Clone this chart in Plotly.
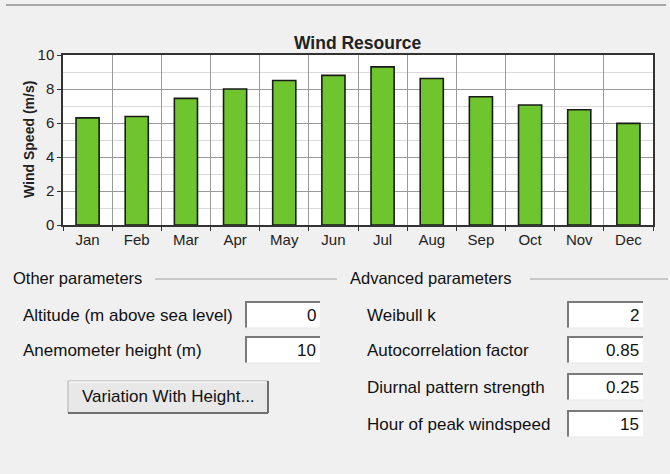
import plotly.graph_objects as go

months = ["Jan", "Feb", "Mar", "Apr", "May", "Jun", "Jul", "Aug", "Sep", "Oct", "Nov", "Dec"]
wind_speed = [6.3, 6.38, 7.45, 8.0, 8.5, 8.8, 9.3, 8.62, 7.54, 7.06, 6.78, 5.98]

other_labels = ["Altitude (m above sea level)", "Anemometer height (m)"]
other_values = ["0", "10"]
adv_labels = ["Weibull k", "Autocorrelation factor", "Diurnal pattern strength", "Hour of peak windspeed"]
adv_values = ["2", "0.85", "0.25", "15"]

W, H = 670, 474
L, R, T, B = 63, 653, 55, 225
FONT = "Liberation Sans, Arial, sans-serif"
FORM_SIZE = 17


def px(x):
    return (x - L) / (R - L)


def py(y):
    return (B - y) / (B - T)


fig = go.Figure()
fig.add_trace(go.Bar(
    x=months, y=wind_speed,
    marker=dict(color="#6EC52E", line=dict(color="#1A1A1A", width=1.6)),
    width=0.47, hoverinfo="x+y",
))

shapes = []
annotations = []

# top window edge line
shapes.append(dict(type="line", xref="paper", yref="paper", x0=px(6), x1=px(666), y0=py(5), y1=py(5),
                   line=dict(color="#A8A8A8", width=2)))

# chart title and y title
annotations.append(dict(text="<b>Wind Resource</b>", xref="paper", yref="paper", x=px(357), y=py(43),
                        yanchor="middle", showarrow=False, font=dict(family=FONT, size=17.5, color="#222")))
annotations.append(dict(text="<b>Wind Speed (m/s)</b>", xref="paper", yref="paper", x=px(19), y=py(140),
                        textangle=-90, showarrow=False, font=dict(family=FONT, size=14, color="#222")))


def group(title, x_text, line_x0, line_x1):
    annotations.append(dict(text=title, xref="paper", yref="paper", x=px(x_text), y=py(278),
                            xanchor="left", yanchor="middle", showarrow=False,
                            font=dict(family=FONT, size=16.5, color="#111")))
    shapes.append(dict(type="line", xref="paper", yref="paper", x0=px(line_x0), x1=px(line_x1),
                       y0=py(279), y1=py(279), line=dict(color="#A0A0A0", width=1)))


group("Other parameters", 11, 155, 337)
group("Advanced parameters", 348, 530, 668)


def field(label, value, lx, bx0, bx1, yc):
    y0, y1 = yc - 14, yc + 13
    annotations.append(dict(text=label, xref="paper", yref="paper", x=px(lx), y=py(yc),
                            xanchor="left", yanchor="middle", showarrow=False,
                            font=dict(family=FONT, size=FORM_SIZE, color="#111")))
    shapes.append(dict(type="rect", xref="paper", yref="paper", x0=px(bx0), x1=px(bx1),
                       y0=py(y0), y1=py(y1), fillcolor="white", line=dict(width=0)))
    shapes.append(dict(type="line", xref="paper", yref="paper", x0=px(bx0), x1=px(bx1),
                       y0=py(y0 + 1), y1=py(y0 + 1), line=dict(color="#7A7A7A", width=2)))
    shapes.append(dict(type="line", xref="paper", yref="paper", x0=px(bx0 + 1), x1=px(bx0 + 1),
                       y0=py(y0), y1=py(y1), line=dict(color="#7A7A7A", width=2)))
    shapes.append(dict(type="line", xref="paper", yref="paper", x0=px(bx0), x1=px(bx1),
                       y0=py(y1), y1=py(y1), line=dict(color="#E6E6E6", width=1)))
    annotations.append(dict(text=value, xref="paper", yref="paper", x=px(bx1 - 2), y=py(yc),
                            xanchor="right", yanchor="middle", showarrow=False,
                            font=dict(family=FONT, size=FORM_SIZE, color="#111")))


for lab, val, yc in zip(other_labels, other_values, [315, 350]):
    field(lab, val, 21, 245, 320, yc)
for lab, val, yc in zip(adv_labels, adv_values, [315, 350, 387, 424]):
    field(lab, val, 365, 567, 643, yc)

# button
bx0, bx1, by0, by1 = 68, 268, 381, 413
shapes.append(dict(type="rect", xref="paper", yref="paper", x0=px(bx0), x1=px(bx1), y0=py(by0), y1=py(by1),
                   fillcolor="#E8E8E8", line=dict(color="#B0B0B0", width=1)))
shapes.append(dict(type="line", xref="paper", yref="paper", x0=px(bx0), x1=px(bx1), y0=py(by1), y1=py(by1),
                   line=dict(color="#6E6E6E", width=2)))
shapes.append(dict(type="line", xref="paper", yref="paper", x0=px(bx1), x1=px(bx1), y0=py(by0), y1=py(by1),
                   line=dict(color="#6E6E6E", width=2)))
shapes.append(dict(type="line", xref="paper", yref="paper", x0=px(bx0 + 1), x1=px(bx1 - 2), y0=py(by0 + 1), y1=py(by0 + 1),
                   line=dict(color="#FFFFFF", width=1)))
annotations.append(dict(text="Variation With Height...", xref="paper", yref="paper", x=px((bx0 + bx1) / 2),
                        y=py(396), xanchor="center", yanchor="middle", showarrow=False,
                        font=dict(family=FONT, size=FORM_SIZE, color="#111")))

fig.update_layout(
    width=W, height=H,
    margin=dict(l=L, r=W - R, t=T, b=H - B),
    paper_bgcolor="#F0F0F0", plot_bgcolor="white",
    showlegend=False,
    bargap=0.53,
    font=dict(family=FONT, size=15, color="#222"),
    shapes=shapes, annotations=annotations,
    xaxis=dict(type="category", tickson="boundaries", showgrid=True, gridcolor="#9A9A9A", gridwidth=1,
               ticks="outside", ticklen=4, tickcolor="#333", showline=True, linecolor="#333", linewidth=1.5,
               mirror=True, tickfont=dict(family=FONT, size=15, color="#222"), fixedrange=True),
    yaxis=dict(range=[0, 10], tickvals=[0, 2, 4, 6, 8, 10], showgrid=True, gridcolor="#9A9A9A", gridwidth=1,
               minor=dict(tickvals=[1, 3, 5, 7, 9], showgrid=True, gridcolor="#DADADA", gridwidth=1),
               ticks="outside", ticklen=4, tickcolor="#333", showline=True, linecolor="#333", linewidth=1.5,
               mirror=True, zeroline=False, tickfont=dict(family=FONT, size=15, color="#222"), fixedrange=True),
)

fig.write_html("out.html", config={"displayModeBar": False},
               post_script="document.body.style.margin='0px';document.body.style.padding='0px';")
